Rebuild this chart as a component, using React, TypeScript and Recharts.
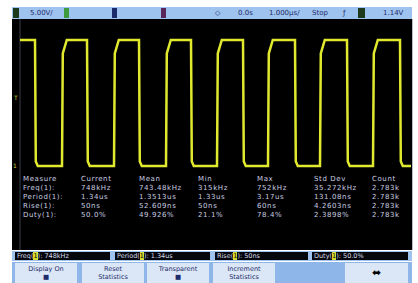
import React from 'react';
import { LineChart, Line, XAxis, YAxis, ReferenceLine } from 'recharts';

// screen trace (time in µs, level in V)
const fallTimes = [0.575, 1.875, 3.175, 4.475, 5.775, 7.075, 8.375, 9.7];
const riseTimes = [1.25, 2.55, 3.85, 5.125, 6.4, 7.7, 9.025];
const traceStart = 0.2;
const traceEnd = 9.975;
const highLevel = 3.3;
const lowLevel = 0;

// measurement table
const measureHeader = ['Measure', 'Current', 'Mean', 'Min', 'Max', 'Std Dev', 'Count'];
const measureNames = ['Freq(1):', 'Period(1):', 'Rise(1):', 'Duty(1):'];
const currentVals = ['748kHz', '1.34us', '50ns', '50.0%'];
const meanVals = ['743.48kHz', '1.3513us', '52.609ns', '49.926%'];
const minVals = ['315kHz', '1.33us', '50ns', '21.1%'];
const maxVals = ['752kHz', '3.17us', '60ns', '78.4%'];
const stdVals = ['35.272kHz', '131.08ns', '4.2603ns', '2.3898%'];
const countVals = ['2.783k', '2.783k', '2.783k', '2.783k'];

const statusLabels = ['Freq', 'Period', 'Rise', 'Duty'];
const statusVals = ['748kHz', '1.34us', '50ns', '50.0%'];

const softKeys = [
    { top: 'Display On', bottom: '■' },
    { top: 'Reset', bottom: 'Statistics' },
    { top: 'Transparent', bottom: '■' },
    { top: 'Increment', bottom: 'Statistics' },
];

const buildTrace = () => {
    const edges = [
        ...fallTimes.map((t) => ({ t, kind: 'fall' })),
        ...riseTimes.map((t) => ({ t, kind: 'rise' })),
    ].sort((a, b) => a.t - b.t);
    const pts = [{ t: traceStart, v: highLevel }];
    edges.forEach((e) => {
        if (e.kind === 'fall') {
            pts.push({ t: e.t, v: highLevel });
            pts.push({ t: e.t + 0.02, v: lowLevel + 0.12 });
            pts.push({ t: e.t + 0.07, v: lowLevel });
        } else {
            pts.push({ t: e.t, v: lowLevel });
            pts.push({ t: e.t + 0.02, v: highLevel - 0.35 });
            pts.push({ t: e.t + 0.12, v: highLevel });
        }
    });
    pts.push({ t: traceEnd, v: lowLevel });
    return pts;
};

const navy = '#1e2c6c';
const tableColor = '#c9cee2';
const colX = [23, 81, 139, 198, 257, 314, 372];
const rowY = [175, 184, 193, 202, 211];

const txt = (x: number, y: number, s: string, color: string, extra: React.CSSProperties = {}) => (
    <div
        key={`${x}-${y}-${s}`}
        style={{ position: 'absolute', left: x, top: y, color, fontSize: 7, lineHeight: '8px', whiteSpace: 'nowrap', ...extra }}
    >
        {s}
    </div>
);

export default function App() {
    const data = buildTrace();
    const cols = [measureNames, currentVals, meanVals, minVals, maxVals, stdVals, countVals];
    const tableStyle = { letterSpacing: 0.6 };

    return (
        <div
            style={{
                position: 'absolute',
                left: 0,
                top: 0,
                width: 418,
                height: 283,
                background: '#ffffff',
                fontFamily: '"DejaVu Sans", sans-serif',
                overflow: 'hidden',
            }}
        >
            {/* top bar */}
            <div style={{ position: 'absolute', left: 12, top: 7, width: 400, height: 12, background: '#9ec3ee' }} />
            <div style={{ position: 'absolute', left: 13, top: 8, width: 6, height: 10, background: '#1d3a1d' }} />
            {txt(30, 9, '5.00V/', navy)}
            <div style={{ position: 'absolute', left: 64, top: 8, width: 5, height: 10, background: '#3d9a3d' }} />
            <div style={{ position: 'absolute', left: 112, top: 8, width: 5, height: 10, background: '#1a2a6a' }} />
            <div style={{ position: 'absolute', left: 161, top: 8, width: 5, height: 10, background: '#5a2558' }} />
            {txt(215, 9, '◇', navy)}
            {txt(238, 9, '0.0s', navy)}
            {txt(269, 9, '1.000µs/', navy)}
            {txt(312, 9, 'Stop', navy)}
            {txt(343, 9, 'ƒ', navy)}
            <div style={{ position: 'absolute', left: 358, top: 8, width: 7, height: 10, background: '#1d3a1d' }} />
            {txt(383, 9, '1.14V', navy)}

            {/* scope screen */}
            <div style={{ position: 'absolute', left: 12, top: 19, width: 400, height: 231, background: '#000000' }}>
                <LineChart width={400} height={231} data={data} margin={{ top: 0, right: 0, bottom: 0, left: 0 }}>
                    <XAxis dataKey="t" type="number" domain={[0, 10]} hide />
                    <YAxis type="number" domain={[-2.2, 3.85]} hide />
                    <ReferenceLine x={traceStart} stroke="#3a3f48" strokeWidth={1} />
                    <Line
                        dataKey="v"
                        type="linear"
                        stroke="#e0e92e"
                        strokeWidth={2.5}
                        dot={false}
                        isAnimationActive={false}
                    />
                </LineChart>
            </div>
            <div style={{ position: 'absolute', left: 412, top: 19, width: 1, height: 231, background: '#b8bcc4' }} />
            {txt(14, 94, 'T', '#c8d040', { fontSize: 6 })}
            {txt(13, 162, '1', '#c8d040', { fontSize: 6 })}

            {/* measurement table */}
            {measureHeader.map((h, i) => txt(colX[i], rowY[0], h, tableColor, tableStyle))}
            {cols.map((col, i) => col.map((v, r) => txt(colX[i], rowY[r + 1], v, tableColor, tableStyle)))}

            {/* status line */}
            <div style={{ position: 'absolute', left: 12, top: 251, width: 400, height: 10, background: '#9ec3ee' }} />
            {statusLabels.map((lab, i) => {
                const lefts = [15, 115, 215, 312];
                const widths = [95, 95, 93, 96];
                return (
                    <div
                        key={lab}
                        style={{
                            position: 'absolute',
                            left: lefts[i],
                            top: 252,
                            width: widths[i],
                            height: 8,
                            background: '#05070c',
                            color: '#d6dae8',
                            fontSize: 6.5,
                            lineHeight: '8px',
                            paddingLeft: 2,
                            boxSizing: 'border-box',
                            whiteSpace: 'nowrap',
                        }}
                    >
                        {lab}(<span style={{ background: '#d8dc30', color: '#000' }}>1</span>): {statusVals[i]}
                    </div>
                );
            })}

            {/* soft keys */}
            <div style={{ position: 'absolute', left: 12, top: 262, width: 400, height: 21, background: '#8fb6e8' }} />
            {softKeys.map((k, i) => {
                const lefts = [15, 82, 147, 213];
                return (
                    <div
                        key={k.top}
                        style={{
                            position: 'absolute',
                            left: lefts[i],
                            top: 263,
                            width: 62,
                            height: 20,
                            background: '#dbe7f6',
                            color: navy,
                            fontSize: 6.5,
                            lineHeight: '8px',
                            textAlign: 'center',
                            paddingTop: 2,
                            boxSizing: 'border-box',
                        }}
                    >
                        <div>{k.top}</div>
                        <div>{k.bottom}</div>
                    </div>
                );
            })}
            <div
                style={{
                    position: 'absolute',
                    left: 345,
                    top: 263,
                    width: 63,
                    height: 20,
                    background: '#dbe7f6',
                    color: '#000',
                    fontSize: 11,
                    lineHeight: '20px',
                    textAlign: 'center',
                }}
            >
                ⬌
            </div>
        </div>
    );
}
